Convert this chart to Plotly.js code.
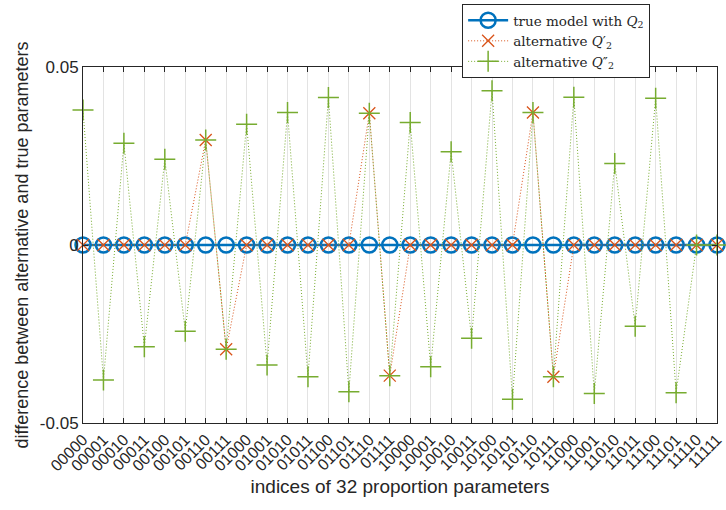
<!DOCTYPE html>
<html><head><meta charset="utf-8">
<script src="https://cdn.plot.ly/plotly-3.0.1.min.js"></script>
<style>html,body{margin:0;padding:0;background:#fff}</style>
</head><body>
<div id="chart" style="width:726px;height:510px"></div>
<script>
const indexLabels = ["00000","00001","00010","00011","00100","00101","00110","00111",
"01000","01001","01010","01011","01100","01101","01110","01111",
"10000","10001","10010","10011","10100","10101","10110","10111",
"11000","11001","11010","11011","11100","11101","11110","11111"];
const trueModel = Array(32).fill(0);
const altQ2p = [0,0,0,0,0,0,0.0295,-0.0293,0,0,0,0,0,0,0.0370,-0.0367,
0,0,0,0,0,0,0.0372,-0.0370,0,0,0,0,0,0,0,0];
const altQ2pp = [0.0379,-0.0379,0.0286,-0.0286,0.0241,-0.0242,0.0295,-0.0293,
0.0339,-0.0337,0.0372,-0.0370,0.0414,-0.0412,0.0370,-0.0367,
0.0344,-0.0342,0.0262,-0.0262,0.0433,-0.0433,0.0372,-0.0370,
0.0415,-0.0417,0.0229,-0.0228,0.0412,-0.0415,0,0];
const xs = indexLabels.map((_, i) => i);

const traces = [
 {x: xs, y: trueModel, type:'scatter', mode:'lines+markers', name:'true model with <i>Q</i><sub>2</sub>',
  line:{color:'#0072BD', width:2.5}, marker:{symbol:'circle-open', size:15, color:'#0072BD', line:{width:2.5, color:'#0072BD'}}, cliponaxis:false},
 {x: xs, y: altQ2p, type:'scatter', mode:'lines+markers', name:'alternative <i>Q</i>′<sub>2</sub>',
  line:{color:'#D95319', width:1, dash:'1px,2px'}, marker:{symbol:'x-thin-open', size:12, color:'#D95319', line:{width:1.3, color:'#D95319'}}, cliponaxis:false},
 {x: xs, y: altQ2pp, type:'scatter', mode:'lines+markers', name:'alternative <i>Q</i>″<sub>2</sub>',
  line:{color:'#77AC30', width:1, dash:'1px,2px'}, marker:{symbol:'cross-thin-open', size:15, color:'#77AC30', line:{width:1.5, color:'#77AC30'}}, cliponaxis:false}
];

const layout = {
 width:726, height:510,
 margin:{l:83, r:9, t:67, b:87, autoexpand:false},
 paper_bgcolor:'#fff', plot_bgcolor:'#fff',
 font:{family:'Liberation Sans, Arial, sans-serif', color:'#262626'},
 showlegend:true,
 legend:{x:0.598, y:1.177, xanchor:'left', yanchor:'top', bgcolor:'#fff', bordercolor:'#262626', borderwidth:1,
   itemwidth:40, font:{family:'DejaVu Serif, Liberation Serif, serif', size:13.5, color:'#262626'}, tracegroupgap:0},
 xaxis:{range:[0,31], tickvals:xs, ticktext:indexLabels, tickangle:-45, ticks:'inside', ticklen:5,
   tickcolor:'#262626', showline:true, linecolor:'#262626', linewidth:1, mirror:'ticks',
   showgrid:true, gridcolor:'#e3e3e3', gridwidth:1, zeroline:false,
   tickfont:{size:16, color:'#262626'},
   title:{text:'indices of 32 proportion parameters', font:{size:19, color:'#262626'}, standoff:6}},
 yaxis:{range:[-0.05,0.05], tickvals:[-0.05,0,0.05], ticktext:['-0.05','0','0.05'], ticks:'inside', ticklen:5,
   tickcolor:'#262626', showline:true, linecolor:'#262626', linewidth:1, mirror:'ticks',
   showgrid:false, zeroline:false, tickfont:{size:17, color:'#262626'},
   title:{text:'difference between alternative and true parameters', font:{size:18, color:'#262626'}, standoff:6}}
};
Plotly.newPlot('chart', traces, layout, {displayModeBar:false, staticPlot:true});
</script>
</body></html>
